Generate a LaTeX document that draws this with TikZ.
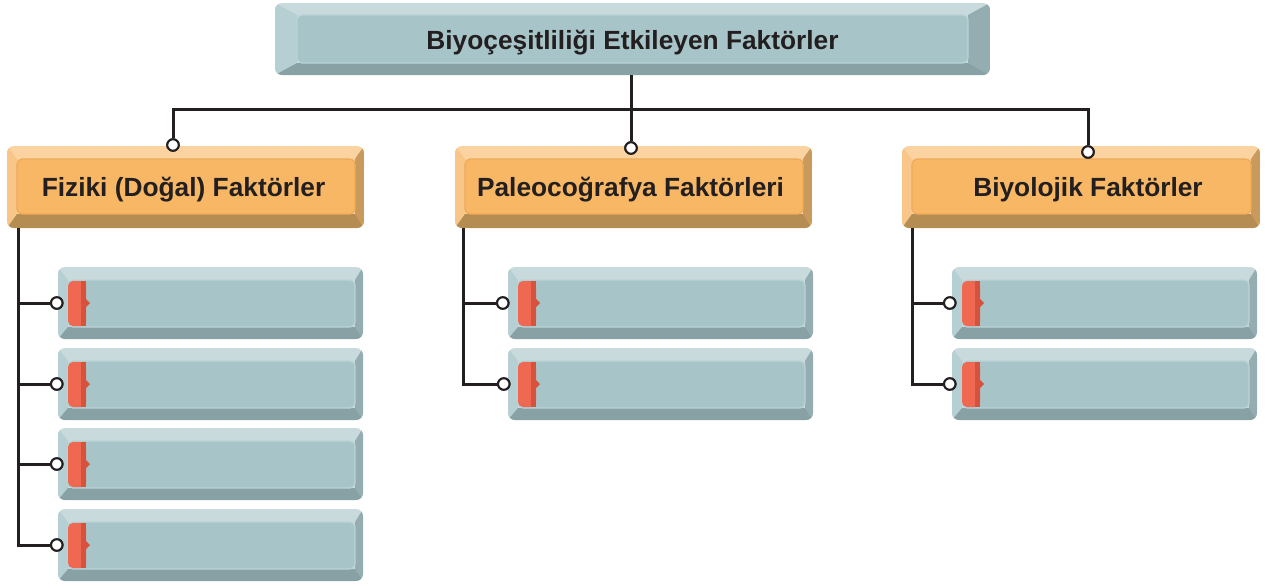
\documentclass[tikz,border=0pt]{standalone}
\usepackage{fontspec}
\setmainfont{Liberation Sans}
\usetikzlibrary{fit}
\definecolor{btop}{HTML}{C9DADD}
\definecolor{bleft}{HTML}{B6CFD2}
\definecolor{bright}{HTML}{93ADB0}
\definecolor{bbot}{HTML}{88A1A4}
\definecolor{bface}{HTML}{A7C4C8}
\definecolor{bedge}{HTML}{BAD3D6}
\definecolor{otop}{HTML}{FBD3A0}
\definecolor{oleft}{HTML}{F9C689}
\definecolor{oright}{HTML}{C99A5B}
\definecolor{obot}{HTML}{B58C52}
\definecolor{oface}{HTML}{F8B764}
\definecolor{oedge}{HTML}{EEAA5A}
\definecolor{rtab}{HTML}{EF6952}
\definecolor{rdark}{HTML}{D6523D}
\definecolor{ink}{HTML}{231F20}
\newcommand\setbevel[4]{\def\bL{#1}\def\bR{#2}\def\bT{#3}\def\bB{#4}}
\newcommand\bevelbox[6]{%
  \begin{scope}
    \clip[rounded corners=7] (#2,#3) rectangle (#4,#5);
    \fill[#6top] (#2,#3) rectangle (#4,#5);
    \fill[#6left] (#2,#3) -- (#2+\bL,#3+\bT) -- (#2+\bL,#5-\bB) -- (#2,#5) -- cycle;
    \fill[#6right] (#4,#3) -- (#4-\bR,#3+\bT) -- (#4-\bR,#5-\bB) -- (#4,#5) -- cycle;
    \fill[#6bot] (#2,#5) -- (#2+\bL,#5-\bB) -- (#4-\bR,#5-\bB) -- (#4,#5) -- cycle;
  \end{scope}
  \filldraw[fill=#6face, draw=#6edge, line width=1.2pt, rounded corners=5]
    (#2+\bL,#3+\bT) rectangle (#4-\bR,#5-\bB);
  \node[fit={(#2,#3) (#4,#5)}, inner sep=0pt] (#1) {};
}
% small box with red tab: name, x1, y1 (width 305, height 72)
\newcommand\smallbox[3]{%
  \setbevel{10}{8}{13}{12}%
  \bevelbox{#1}{#2}{#3}{#2+305}{#3+72}{b}%
  \fill[rtab, rounded corners=5] (#2+10,#3+14) rectangle (#2+28,#3+59);
  \fill[rdark] (#2+23,#3+14) rectangle (#2+28,#3+59);
  \fill[rdark] (#2+28,#3+32) -- (#2+32,#3+36) -- (#2+28,#3+40) -- cycle;
}
\tikzset{
  lbl/.style={font=\bfseries\fontsize{26.3}{30}\selectfont, text=ink, inner sep=0pt},
  wire/.style={draw=ink, line width=3pt},
  dot/.style={circle, draw=ink, fill=white, line width=2pt, minimum size=11.5pt, inner sep=0pt},
}
\begin{document}
\begin{tikzpicture}[x=1pt, y=-1pt]
\useasboundingbox (0,0) rectangle (1265,587);

% boxes
\setbevel{22}{22}{12}{12}
\bevelbox{top}{275}{3}{990}{75}{b}
\setbevel{10}{9}{13}{14}
\bevelbox{o1}{7}{146}{364}{228}{o}
\bevelbox{o2}{455}{146}{812}{228}{o}
\bevelbox{o3}{902}{146}{1260}{228}{o}

\smallbox{a1}{58}{267}
\smallbox{a2}{58}{348}
\smallbox{a3}{58}{428}
\smallbox{a4}{58}{509}
\smallbox{b1}{508}{267}
\smallbox{b2}{508}{348}
\smallbox{c1}{952}{267}
\smallbox{c2}{952}{348}

% texts
\node[lbl] (t0) at ([yshift=-4pt]top.center) {Biyoçeşitliliği Etkileyen Faktörler};
\node[lbl] (t1) at ([xshift=-2pt,yshift=-2.5pt]o1.center) {Fiziki (Doğal) Faktörler};
\node[lbl] (t2) at ([xshift=-3pt,yshift=-2.5pt]o2.center) {Paleocoğrafya Faktörleri};
\node[lbl] (t3) at ([xshift=7pt,yshift=-2.5pt]o3.center) {Biyolojik Faktörler};

% junction points
\coordinate (jn) at (631,109);
\coordinate (s1) at (18,228);
\coordinate (s2) at (463,228);
\coordinate (s3) at (912,228);

% dots (positions)
\node[dot] (d1) at (173,145) {};
\node[dot] (d2) at (631,148) {};
\node[dot] (d3) at (1088,152) {};
\node[dot] (da1) at ([xshift=-1pt]a1.west) {};
\node[dot] (da2) at ([xshift=-1pt]a2.west) {};
\node[dot] (da3) at ([xshift=-1pt]a3.west) {};
\node[dot] (da4) at ([xshift=-1pt]a4.west) {};
\node[dot] (db1) at ([xshift=-5pt]b1.west) {};
\node[dot] (db2) at ([xshift=-4pt]b2.west) {};
\node[dot] (dc1) at ([xshift=-2pt]c1.west) {};
\node[dot] (dc2) at ([xshift=-2pt]c2.west) {};

% top connectors
\draw[wire] (top.south -| jn) -- (d2);
\draw[wire] (d1) |- (jn) -| (d3);

% left column
\draw[wire] (s1) |- (da4);
\draw[wire] (s1 |- da1) -- (da1);
\draw[wire] (s1 |- da2) -- (da2);
\draw[wire] (s1 |- da3) -- (da3);
% middle column
\draw[wire] (s2) |- (db2);
\draw[wire] (s2 |- db1) -- (db1);
% right column
\draw[wire] (s3) |- (dc2);
\draw[wire] (s3 |- dc1) -- (dc1);

% redraw dots on top
\foreach \d in {d1,d2,d3,da1,da2,da3,da4,db1,db2,dc1,dc2}
  \node[dot] at (\d) {};
\end{tikzpicture}
\end{document}
